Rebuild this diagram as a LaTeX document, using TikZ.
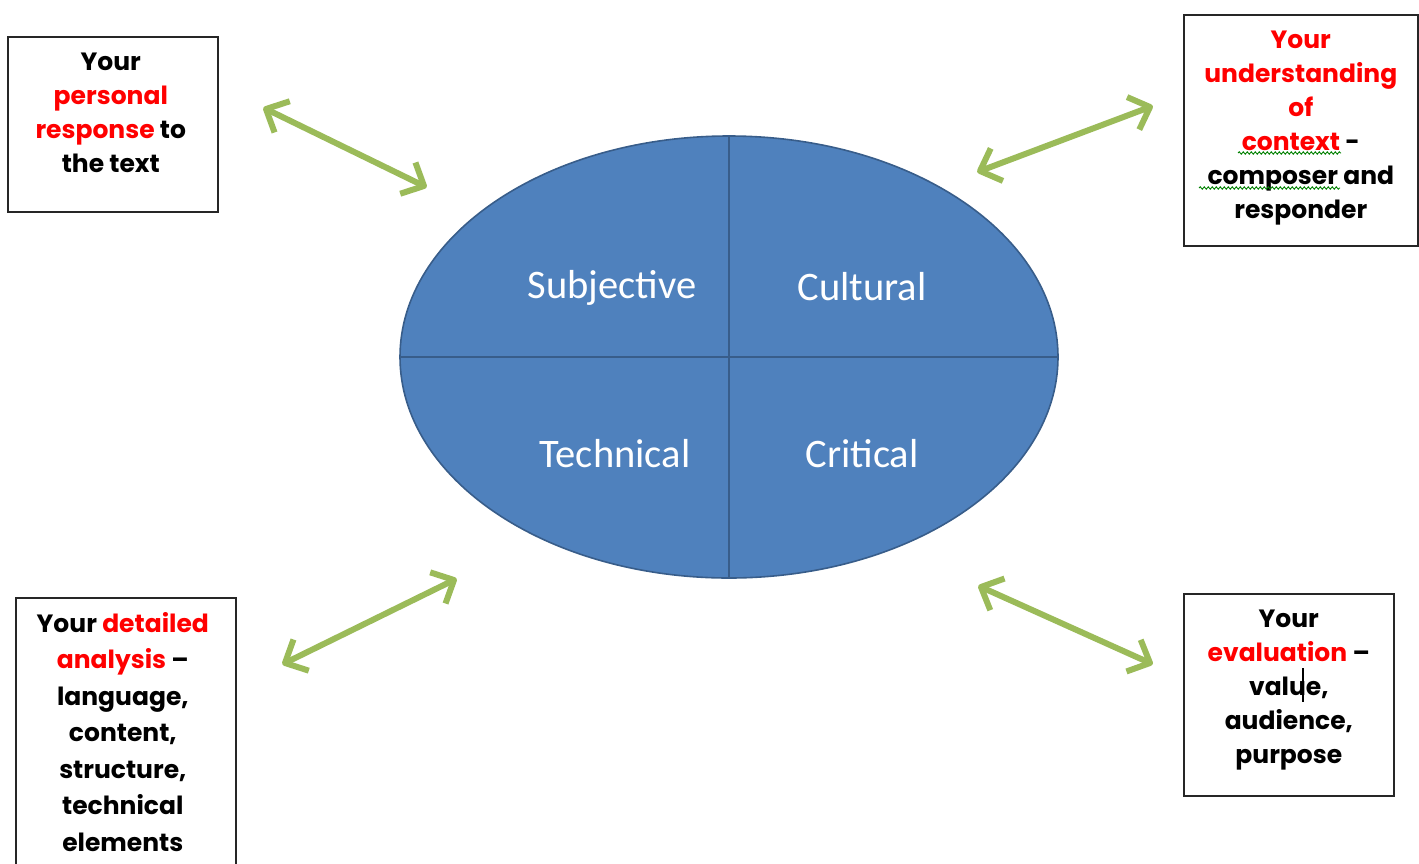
\documentclass[tikz,border=0pt]{standalone}
\usepackage{fontspec}
\setmainfont{Poppins}
\newfontfamily\ovalfont{Carlito}
\usepackage{xcolor}
\usepackage{tikz}
\usetikzlibrary{positioning,shapes.geometric,calc,decorations.pathmorphing}
\definecolor{ovalblue}{HTML}{4F81BD}
\definecolor{ovaledge}{HTML}{385D8A}
\definecolor{arrowgreen}{HTML}{9BBB59}
\definecolor{wordred}{HTML}{FF0000}
\tikzset{
  infobox/.style={draw=black!85, line width=1.6pt, anchor=north west, inner sep=0pt},
  boxtext/.style={align=center, inner sep=0pt, font=\fontsize{25}{34}\selectfont\bfseries},
  ovaltext/.style={text=white, inner sep=0pt, font=\ovalfont\fontsize{40.5}{44}\selectfont},
  twoway/.style={draw=arrowgreen, line width=6pt, line join=round},
  spellwave/.style={draw=green!50!black, line width=0.9pt,
    decorate, decoration={snake, amplitude=1.2pt, segment length=4pt}}
}
\newcommand{\hl}[1]{\textcolor{wordred}{#1}}
% shaft with an open head at both ends
\newcommand{\twowayarrow}[2]{%
  \draw[twoway] (#1) -- (#2);
  \draw[twoway] ($(#1)!25pt!44:(#2)$) -- (#1) -- ($(#1)!25pt!-44:(#2)$);
  \draw[twoway] ($(#2)!25pt!44:(#1)$) -- (#2) -- ($(#2)!25pt!-44:(#1)$);}

\begin{document}
\begin{tikzpicture}[x=1pt,y=-1pt]
\useasboundingbox (0,0) rectangle (1419,863);
% the oval
\node[ellipse, draw=ovaledge, fill=ovalblue, line width=1.6pt,
  minimum width=658pt, minimum height=442pt] (oval) at (729,357) {};
\draw[ovaledge, line width=2pt] (oval.north) -- (oval.south);
\draw[ovaledge, line width=2pt] (oval.west) -- (oval.east);
\node[ovaltext] (subj) at (612,288) {Subjective};
\node[ovaltext] (cult) at (862,287) {Cultural};
\node[ovaltext] (tech) at (615,454) {Technical};
\node[ovaltext] (crit) at (862,454) {Critical};
% the four boxes
\node[infobox, minimum width=210pt, minimum height=175pt] (tlbox) at (7,36) {};
\node[infobox, minimum width=234pt, minimum height=231pt] (trbox) at (1183,14) {};
\node[infobox, minimum width=220pt, minimum height=300pt] (blbox) at (15,597) {};
\node[infobox, minimum width=210pt, minimum height=202pt] (brbox) at (1183,593) {};
\node[boxtext, below=17pt of tlbox.north, xshift=-2pt] (tltext)
  {Your\\ \hl{personal}\\ \hl{response} to\\ the text};
\node[boxtext, below=17pt of trbox.north] (trtext)
  {\hl{Your}\\ \hl{understanding}\\ \hl{of}\\ \hl{context} -\\ composer and\\ responder};
\node[boxtext, below=15pt of blbox.north, xshift=-3pt,
  font=\fontsize{25}{36.5}\selectfont\bfseries] (bltext)
  {Your \hl{detailed}\\ \hl{analysis} --\\ language,\\ content,\\ structure,\\ technical\\ elements};
\node[boxtext, below=17pt of brbox.north] (brtext)
  {Your\\ \hl{evaluation} --\\ value,\\ audience,\\ purpose};
% spell check marks and cursor
\draw[spellwave] (1238,153) -- (1341,153);
\draw[spellwave] (1199,188) -- (1340,188);
\draw[black, line width=1.5pt] (1303,668) -- (1303,702);
% arrows
\coordinate (tlfar) at (266,109);
\coordinate (tlnear) at (424,186);
\coordinate (trfar) at (1150,107);
\coordinate (trnear) at (980,171);
\coordinate (blfar) at (285,663);
\coordinate (blnear) at (454,580);
\coordinate (brfar) at (1150,663);
\coordinate (brnear) at (981,587);
\twowayarrow{tlfar}{tlnear}
\twowayarrow{trnear}{trfar}
\twowayarrow{blfar}{blnear}
\twowayarrow{brnear}{brfar}
\end{tikzpicture}
\end{document}
